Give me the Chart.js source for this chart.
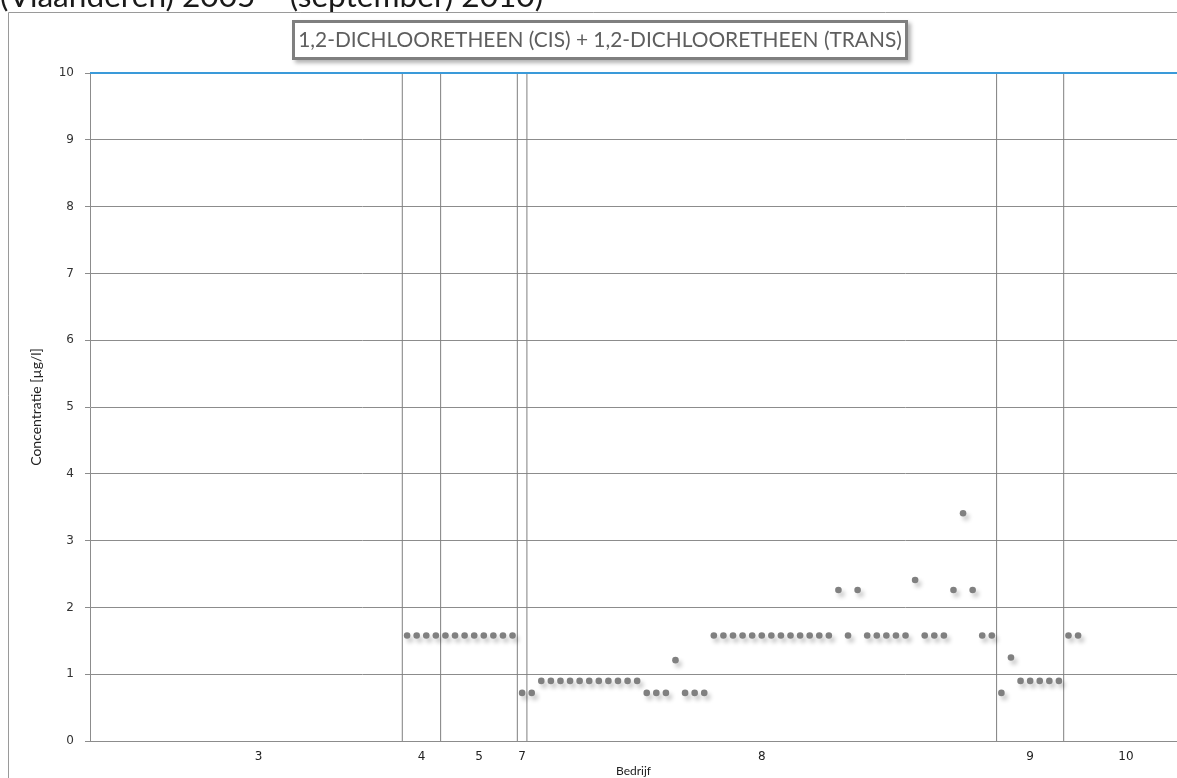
<!DOCTYPE html>
<html><head><meta charset="utf-8">
<script src="https://cdn.jsdelivr.net/npm/chart.js@4.4.0/dist/chart.umd.min.js"></script>
<style>html,body{margin:0;padding:0;background:#fff;overflow:hidden}canvas{display:block}</style>
</head><body>
<canvas id="c" width="1177" height="778"></canvas>
<script>
// ---- data ----
const bedrijven = ['3', '4', '5', '7', '8', '9', '10'];
const aantalMetingen = [30, 4, 8, 1, 49, 7, 13];
const conc3 = [];
const conc4 = [1.58, 1.58, 1.58, 1.58];
const conc5 = [1.58, 1.58, 1.58, 1.58, 1.58, 1.58, 1.58, 1.58];
const conc7 = [0.72];
const conc8 = [0.72,
  0.9, 0.9, 0.9, 0.9, 0.9, 0.9, 0.9, 0.9, 0.9, 0.9, 0.9,
  0.72, 0.72, 0.72, 1.21, 0.72, 0.72, 0.72,
  1.58, 1.58, 1.58, 1.58, 1.58, 1.58, 1.58, 1.58, 1.58, 1.58, 1.58, 1.58, 1.58,
  2.26, 1.58, 2.26,
  1.58, 1.58, 1.58, 1.58, 1.58, 2.41,
  1.58, 1.58, 1.58, 2.26, 3.41, 2.26, 1.58, 1.58];
const conc9 = [0.72, 1.25, 0.9, 0.9, 0.9, 0.9, 0.9];
const conc10 = [1.58, 1.58];
const yTicks = [0, 1, 2, 3, 4, 5, 6, 7, 8, 9, 10];
const normWaarde = 10;
const titel = '1,2-DICHLOORETHEEN (CIS) + 1,2-DICHLOORETHEEN (TRANS)';
const kop = '(Vlaanderen) 2005 \u2013 (september) 2010)';
const yTitel = 'Concentratie [\u00b5g/l]';
const xTitel = 'Bedrijf';

// ---- build ----
const reeksen = [conc3, conc4, conc5, conc7, conc8, conc9, conc10];
const punten = [], grenzen = [], midden = [];
let s = 0;
bedrijven.forEach((b, i) => {
  reeksen[i].forEach((v, j) => { if (v != null) punten.push({x: s + j, y: v}); });
  midden.push(s + (aantalMetingen[i] - 1) / 2);
  s += aantalMetingen[i];
  if (i < bedrijven.length - 1) grenzen.push(s - 0.5);
});
const xMin = -3.08, xMax = 110.32;

const GRID = '#8c8c8c';
const datasets = [
  {type: 'scatter', label: 'metingen', data: punten, backgroundColor: '#808080', borderWidth: 0,
   pointRadius: 3.3, pointHoverRadius: 3.3, order: 0},
  {type: 'line', label: 'norm', data: [{x: xMin, y: normWaarde}, {x: xMax, y: normWaarde}],
   borderColor: '#3a9ad9', borderWidth: 2, pointRadius: 0, clip: 3, order: 1}
];
grenzen.forEach(g => datasets.push({type: 'line', label: 'grens', data: [{x: g, y: yTicks[0]}, {x: g, y: yTicks[yTicks.length - 1]}],
  borderColor: '#7f7f7f', borderWidth: 1, pointRadius: 0, order: 2}));

function fitSize(ctx, text, family, width) {
  ctx.font = '100px ' + family;
  return 100 * width / ctx.measureText(text).width;
}

const decor = {
  id: 'decor',
  beforeDraw(chart) {
    const ctx = chart.ctx;
    ctx.save();
    ctx.fillStyle = '#fff';
    ctx.fillRect(0, 0, chart.width, chart.height);
    ctx.strokeStyle = '#9a9a9a';
    ctx.lineWidth = 1;
    ctx.beginPath();
    ctx.moveTo(8.5, chart.height + 5);
    ctx.lineTo(8.5, 12.5);
    ctx.lineTo(chart.width + 5, 12.5);
    ctx.stroke();
    const fam = 'Lato, "Open Sans", sans-serif';
    const hs = fitSize(ctx, '(Vlaanderen) 2005 \u2013 ', fam, 290);
    ctx.font = hs.toFixed(2) + 'px ' + fam;
    ctx.fillStyle = '#1a1a1a';
    ctx.textBaseline = 'alphabetic';
    ctx.textAlign = 'left';
    ctx.fillText(kop, 0, 7);
    ctx.restore();
  },
  beforeDatasetDraw(chart, args) {
    if (args.index === 0) {
      const ctx = chart.ctx;
      ctx.save();
      ctx.shadowColor = 'rgba(0,0,0,0.22)';
      ctx.shadowBlur = 4;
      ctx.shadowOffsetX = 3;
      ctx.shadowOffsetY = 4;
    }
  },
  afterDatasetDraw(chart, args) {
    if (args.index === 0) chart.ctx.restore();
  },
  afterDraw(chart) {
    const ctx = chart.ctx;
    ctx.save();
    ctx.shadowColor = 'rgba(0,0,0,0.3)';
    ctx.shadowBlur = 4;
    ctx.shadowOffsetX = 3;
    ctx.shadowOffsetY = 3;
    ctx.fillStyle = '#fff';
    ctx.fillRect(292, 20, 616, 40);
    ctx.shadowColor = 'transparent';
    ctx.strokeStyle = '#7f7f7f';
    ctx.lineWidth = 3;
    ctx.strokeRect(293.5, 21.5, 613, 37);
    const fam = 'Lato, "Open Sans", sans-serif';
    const ts = fitSize(ctx, titel, fam, 604);
    ctx.font = ts.toFixed(2) + 'px ' + fam;
    ctx.fillStyle = '#5e5e5e';
    ctx.textAlign = 'center';
    ctx.textBaseline = 'alphabetic';
    ctx.fillText(titel, 600, 47);
    ctx.restore();
  }
};

new Chart(document.getElementById('c'), {
  type: 'scatter',
  data: {datasets},
  options: {
    responsive: false,
    devicePixelRatio: 1,
    animation: false,
    events: [],
    layout: {autoPadding: false, padding: {top: 73, left: 0, right: 0, bottom: 0}},
    plugins: {legend: {display: false}, tooltip: {enabled: false}, title: {display: false}},
    scales: {
      x: {
        type: 'linear', min: xMin, max: xMax,
        grid: {display: false, drawTicks: false},
        border: {display: true, color: GRID, width: 1},
        afterBuildTicks: sc => { sc.ticks = midden.map(v => ({value: v})); },
        afterFit: sc => { sc.height = 37; },
        ticks: {
          autoSkip: false, maxRotation: 0, minRotation: 0, padding: 9,
          color: '#222', font: {family: '"DejaVu Sans", Verdana, sans-serif', size: 12},
          callback: (v, i) => bedrijven[i]
        },
        title: {display: true, text: xTitel, color: '#222',
          font: {family: 'Lato, "Open Sans", sans-serif', size: 12}, padding: {top: 0, bottom: 0}}
      },
      y: {
        type: 'linear', min: yTicks[0], max: yTicks[yTicks.length - 1],
        afterBuildTicks: sc => { sc.ticks = yTicks.map(v => ({value: v})); },
        afterFit: sc => { sc.width = 90; },
        grid: {color: GRID, lineWidth: 1, drawTicks: true, tickLength: 5, tickColor: GRID},
        border: {display: true, color: GRID, width: 1},
        ticks: {padding: 11, color: '#333', font: {family: '"DejaVu Sans", Verdana, sans-serif', size: 12}},
        title: {display: true, text: yTitel, color: '#222',
          font: {family: 'Lato, "Open Sans", sans-serif', size: 14}, padding: {top: 28, bottom: 0}}
      }
    }
  },
  plugins: [decor]
});
</script>
</body></html>
